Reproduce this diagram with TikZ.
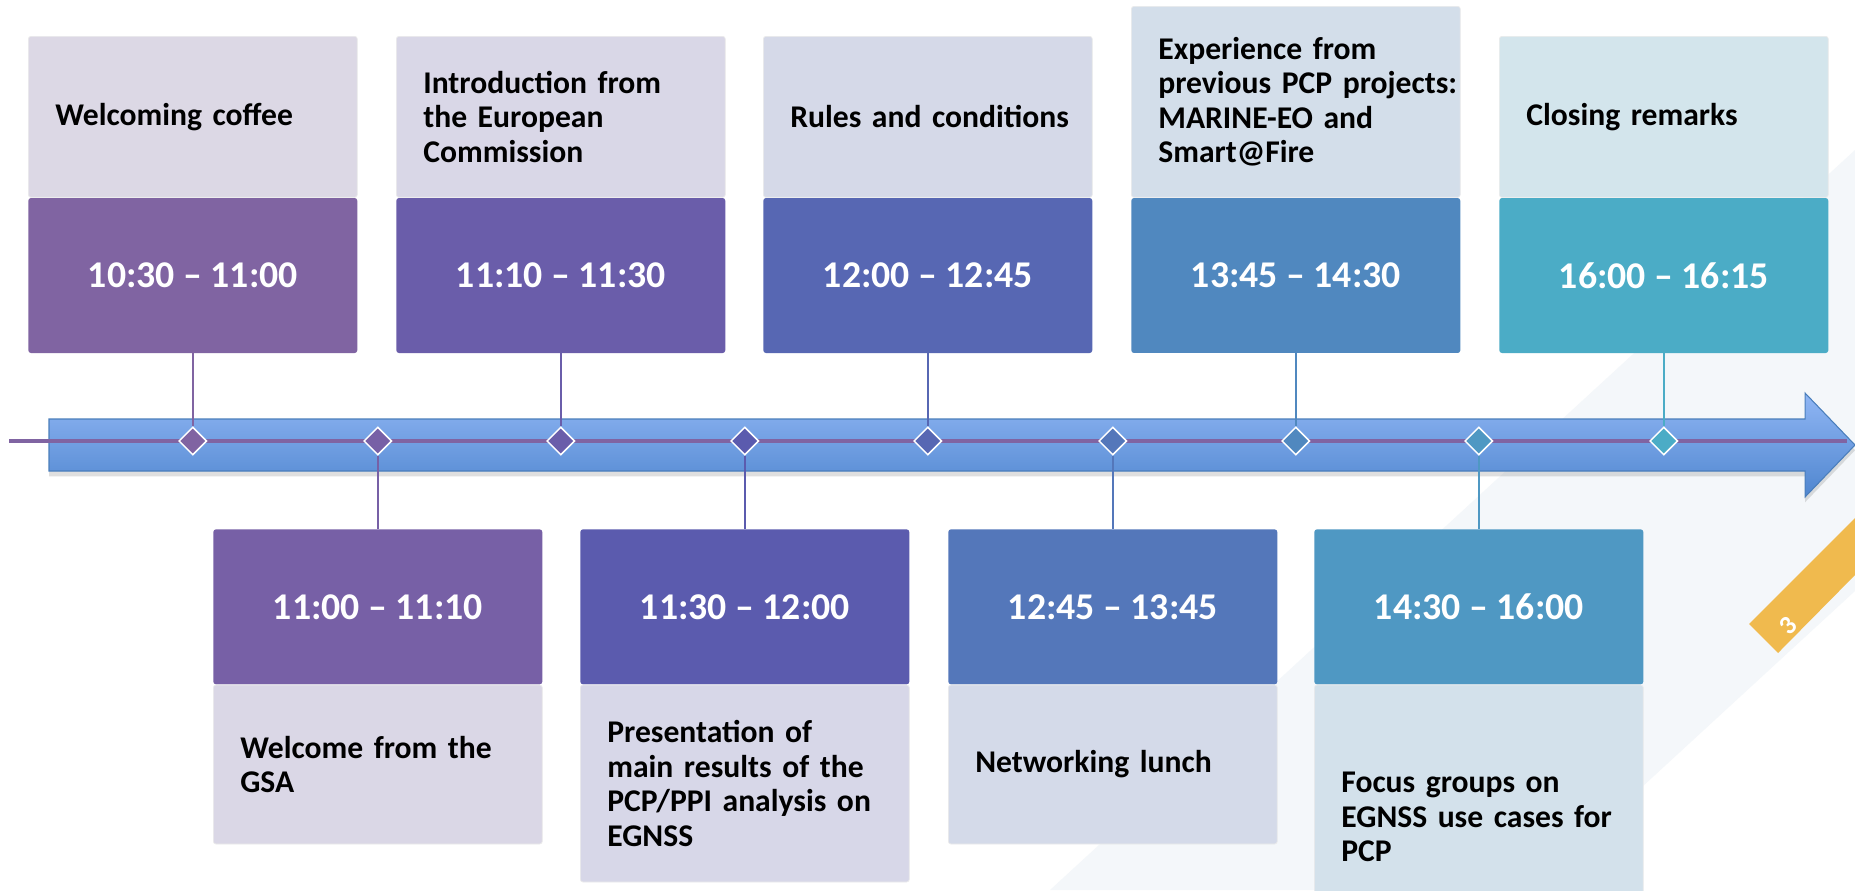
\documentclass[tikz,border=0pt]{standalone}
\usepackage{fontspec}
\setmainfont{Carlito}
\usetikzlibrary{positioning,shapes.geometric,shadows}

\definecolor{evA}{HTML}{8064A2}
\definecolor{evB}{HTML}{7760A6}
\definecolor{evC}{HTML}{6A5DAA}
\definecolor{evD}{HTML}{5B5BAE}
\definecolor{evE}{HTML}{5767B3}
\definecolor{evF}{HTML}{5477BA}
\definecolor{evG}{HTML}{5088BF}
\definecolor{evH}{HTML}{4F98C3}
\definecolor{evI}{HTML}{4BACC6}
\definecolor{lightA}{HTML}{DCD8E5}
\definecolor{lightB}{HTML}{DAD7E6}
\definecolor{lightC}{HTML}{D9D7E7}
\definecolor{lightD}{HTML}{D7D7E8}
\definecolor{lightE}{HTML}{D5D9E8}
\definecolor{lightF}{HTML}{D4DAE9}
\definecolor{lightG}{HTML}{D3DEEA}
\definecolor{lightH}{HTML}{D3E1EB}
\definecolor{lightI}{HTML}{D3E5EC}
\definecolor{arrowtop}{HTML}{90B6F4}
\definecolor{arrowbot}{HTML}{4F86CF}
\definecolor{arrowedge}{HTML}{4A7EBB}
\definecolor{bgtint}{HTML}{F4F7FA}
\definecolor{tabgold}{HTML}{F0BA4E}

\tikzset{
  slot/.style={fill=#1, rounded corners=1.5pt, minimum width=6.58cm, minimum height=3.1cm,
    inner sep=0pt, text=white, font=\bfseries\fontsize{21.5}{24}\selectfont},
  topic/.style={fill=#1, draw=black!8, rounded corners=1.5pt, minimum width=6.58cm,
    text width=5.5cm, align=left, inner sep=0pt, font=\bfseries\fontsize{18}{19.6}\selectfont},
  milestone/.style={diamond, aspect=1, fill=#1, draw=white, line width=0.85pt,
    inner sep=0pt, minimum size=0.56cm},
  stem/.style={draw=#1, line width=0.85pt},
}

\begin{document}
\begin{tikzpicture}[x=0.02cm,y=-0.02cm]
		%%%%% BACKGROUND %%%%%
		\fill[white] (0,0) rectangle (1855,890);
		\useasboundingbox (0,0) rectangle (1855,890);
		\clip (0,0) rectangle (1855,890);
		\fill[bgtint] (1050,890) -- (1855,150) -- (1855,591) -- (1530,890) -- cycle;
		\fill[tabgold] (1749,624) -- (1855,518) -- (1855,575) -- (1778,653) -- cycle;
		\node[rotate=45, text=white, font=\bfseries\fontsize{15}{17}\selectfont] (pagenum) at (1788,626) {3};
		
		%%%%% ARROW %%%%%
		\path[top color=arrowtop, bottom color=arrowbot, draw=arrowedge, line width=0.6pt,
			drop shadow={opacity=0.25, shadow xshift=0pt, shadow yshift=-3pt}]
			(49,419) -- (1805,419) -- (1805,393) -- (1855,445) -- (1805,497) -- (1805,471) -- (49,471) -- cycle;
		\coordinate (axisL) at (9,441);
		\coordinate (axisR) at (1847,441);
		\draw[evA, line width=2.8pt] (axisL) -- (axisR);
		
		%%%%% TOP ROW %%%%%
		\node[topic=lightA, minimum height=3.22cm, anchor=north west] (lab1) at (28,36) {Welcoming coffee};
		\node[slot=evA, below=0pt of lab1] (time1) {10:30 -- 11:00};
		
		\node[topic=lightC, minimum height=3.22cm, anchor=north west] (lab3) at (396,36) {Introduction from\\the European\\Commission};
		\node[slot=evC, below=0pt of lab3] (time3) {11:10 -- 11:30};
		
		\node[topic=lightE, minimum height=3.22cm, anchor=north west] (lab5) at (763,36) {\mbox{Rules and conditions}};
		\node[slot=evE, below=0pt of lab5] (time5) {12:00 -- 12:45};
		
		\node[topic=lightG, minimum height=3.82cm, anchor=north west] (lab7) at (1131,6) {Experience from\\\mbox{previous PCP projects:}\\MARINE-EO and\\Smart@Fire};
		\node[slot=evG, below=0pt of lab7] (time7) {13:45 -- 14:30};
		
		\node[topic=lightI, minimum height=3.22cm, anchor=north west] (lab9) at (1499,36) {Closing remarks};
		\node[slot=evI, below=0pt of lab9] (time9) {16:00 -- 16:15};
		
		%%%%% BOTTOM ROW %%%%%
		\node[slot=evB, anchor=north west] (time2) at (213,529) {11:00 -- 11:10};
		\node[topic=lightB, minimum height=3.18cm, below=0pt of time2] (lab2) {Welcome from the\\GSA};
		
		\node[slot=evD, anchor=north west] (time4) at (580,529) {11:30 -- 12:00};
		\node[topic=lightD, minimum height=3.94cm, below=0pt of time4] (lab4) {Presentation of\\main results of the\\\mbox{PCP/PPI analysis on}\\EGNSS};
		
		\node[slot=evF, anchor=north west] (time6) at (948,529) {12:45 -- 13:45};
		\node[topic=lightF, minimum height=3.18cm, below=0pt of time6] (lab6) {Networking lunch};
		
		\node[slot=evH, anchor=north west] (time8) at (1314,529) {14:30 -- 16:00};
		\node[topic=lightH, minimum height=5.28cm, below=0pt of time8] (lab8) {Focus groups on\\\mbox{EGNSS use cases for}\\PCP};
		
		%%%%% MILESTONES %%%%%
		\node[milestone=evA] (dia1) at (time1 |- axisL) {};
		\node[milestone=evB] (dia2) at (time2 |- axisL) {};
		\node[milestone=evC] (dia3) at (time3 |- axisL) {};
		\node[milestone=evD] (dia4) at (time4 |- axisL) {};
		\node[milestone=evE] (dia5) at (time5 |- axisL) {};
		\node[milestone=evF] (dia6) at (time6 |- axisL) {};
		\node[milestone=evG] (dia7) at (time7 |- axisL) {};
		\node[milestone=evH] (dia8) at (time8 |- axisL) {};
		\node[milestone=evI] (dia9) at (time9 |- axisL) {};
		
		\draw[stem=evA] (time1.south) -- (dia1);
		\draw[stem=evC] (time3.south) -- (dia3);
		\draw[stem=evE] (time5.south) -- (dia5);
		\draw[stem=evG] (time7.south) -- (dia7);
		\draw[stem=evI] (time9.south) -- (dia9);
		\draw[stem=evB] (dia2) -- (time2.north);
		\draw[stem=evD] (dia4) -- (time4.north);
		\draw[stem=evF] (dia6) -- (time6.north);
		\draw[stem=evH] (dia8) -- (time8.north);
		%%%%% END %%%%%
	\end{tikzpicture}
\end{document}
